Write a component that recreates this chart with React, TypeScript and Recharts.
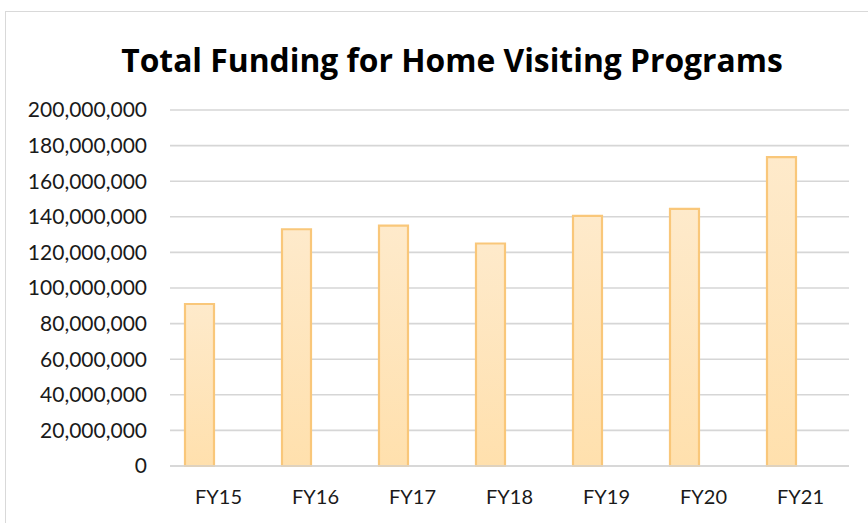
import React from "react";
import { BarChart, Bar, XAxis, YAxis, CartesianGrid } from "recharts";

const categories = ["FY15", "FY16", "FY17", "FY18", "FY19", "FY20", "FY21"];
const funding = [91000000, 133000000, 135000000, 125000000, 140500000, 144500000, 173500000];
const yTicks = [0, 20000000, 40000000, 60000000, 80000000, 100000000, 120000000, 140000000, 160000000, 180000000, 200000000];
const title = "Total Funding for Home Visiting Programs";

const data = categories.map((c, i) => ({ year: c, funding: funding[i] }));

const fmt = (v: number) => v.toLocaleString("en-US");
const FONT = "Lato, 'Open Sans', sans-serif";

export default function App() {
  return (
    <div style={{ position: "fixed", left: 0, top: 0, width: 868, height: 523, overflow: "hidden", background: "#fff" }}>
      <div style={{ position: "absolute", left: 5, top: 11, width: 1000, height: 1000, border: "1.5px solid #D9D9D9", boxSizing: "border-box" }} />
      <svg width={868} height={100} style={{ position: "absolute", left: 0, top: 0 }}>
        <text x={452} y={72} textAnchor="middle" fontFamily="'Open Sans', sans-serif" fontWeight={700} fontSize={31.8} fill="#000">
          {title}
        </text>
      </svg>
      <div style={{ position: "absolute", left: 0, top: 0 }}>
        <BarChart
          width={868}
          height={523}
          data={data}
          margin={{ top: 110, right: 19, bottom: 0, left: 0 }}
          barSize={29}
          barGap={9}
        >
          <defs>
            <linearGradient id="barGrad" x1="0" y1="0" x2="0" y2="1">
              <stop offset="0%" stopColor="#FEEACB" />
              <stop offset="100%" stopColor="#FFE0AD" />
            </linearGradient>
          </defs>
          <CartesianGrid vertical={false} stroke="#D6D6D6" strokeWidth={1.6} />
          <XAxis
            dataKey="year"
            axisLine={{ stroke: "#D6D6D6", strokeWidth: 1.6 }}
            tickLine={false}
            tickSize={0}
            tickMargin={24}
            tick={{ fontFamily: FONT, fontSize: 20, fill: "#1a1a1a" }}
            height={57}
          />
          <YAxis
            width={170}
            domain={[0, 200000000]}
            ticks={yTicks}
            tickFormatter={fmt}
            axisLine={false}
            tickLine={false}
            tickSize={0}
            tickMargin={23}
            tick={{ fontFamily: FONT, fontSize: 21, fill: "#1a1a1a" }}
            interval={0}
          />
          <Bar dataKey="funding" fill="url(#barGrad)" stroke="#F9C77A" strokeWidth={2.2} isAnimationActive={false} />
          <Bar dataKey="blank" fill="none" isAnimationActive={false} />
        </BarChart>
      </div>
    </div>
  );
}
